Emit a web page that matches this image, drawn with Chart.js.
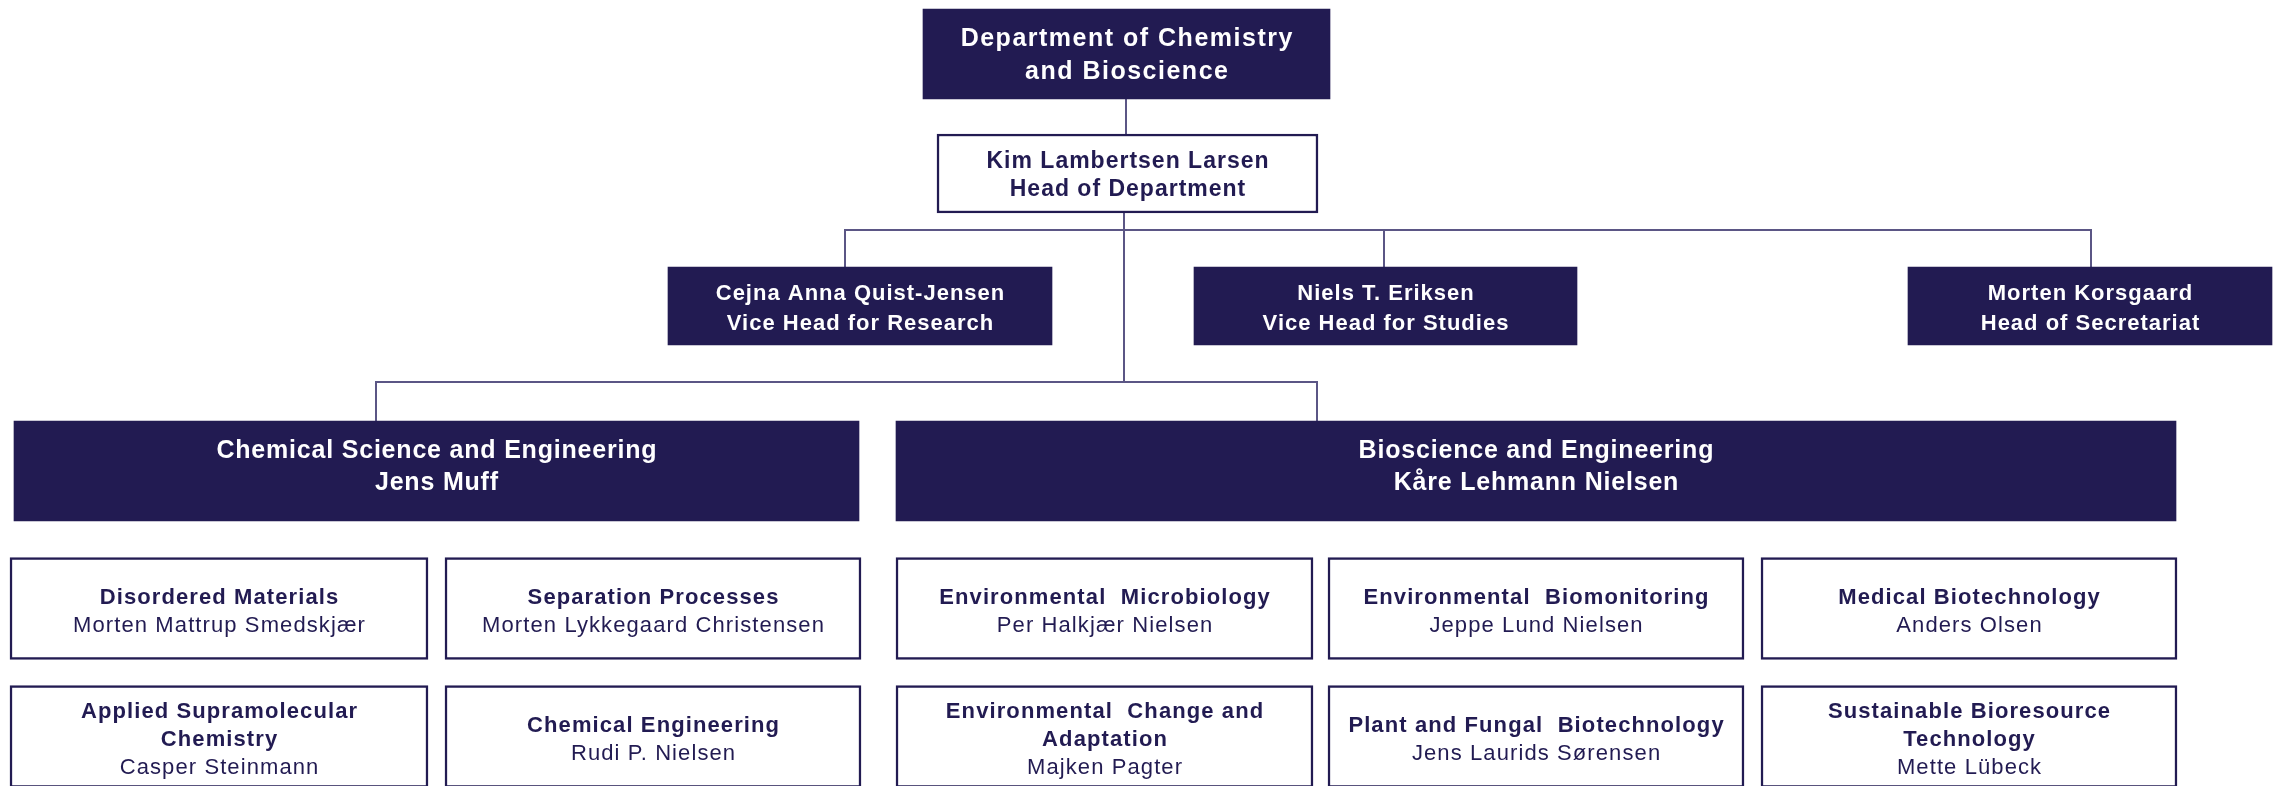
<!DOCTYPE html>
<html>
<head>
<meta charset="utf-8">
<title>Department of Chemistry and Bioscience</title>
<script src="https://cdn.jsdelivr.net/npm/chart.js@4.4.1/dist/chart.umd.min.js"></script>
<style>
  html, body { margin: 0; padding: 0; background: #fff; }
  canvas { display: block; }
</style>
</head>
<body>
<canvas id="orgChart" width="2284" height="786"></canvas>
<script>
// --- CONTENT ---
const deptTitle = ['Department of Chemistry', 'and Bioscience'];
const headName = 'Kim Lambertsen Larsen';
const headRole = 'Head of Department';
const leaderNames = ['Cejna Anna Quist-Jensen', 'Niels T. Eriksen', 'Morten Korsgaard'];
const leaderRoles = ['Vice Head for Research', 'Vice Head for Studies', 'Head of Secretariat'];
const sectionNames = ['Chemical Science and Engineering', 'Bioscience and Engineering'];
const sectionHeads = ['Jens Muff', 'Kåre Lehmann Nielsen'];
const groupNames = [
    'Disordered Materials', 'Separation Processes', 'Environmental  Microbiology',
    'Environmental  Biomonitoring', 'Medical Biotechnology',
    'Applied Supramolecular\nChemistry', 'Chemical Engineering', 'Environmental  Change and\nAdaptation',
    'Plant and Fungal  Biotechnology', 'Sustainable Bioresource\nTechnology'
];
const groupHeads = [
    'Morten Mattrup Smedskjær', 'Morten Lykkegaard Christensen', 'Per Halkjær Nielsen',
    'Jeppe Lund Nielsen', 'Anders Olsen',
    'Casper Steinmann', 'Rudi P. Nielsen', 'Majken Pagter',
    'Jens Laurids Sørensen', 'Mette Lübeck'
];

// --- LAYOUT (chart units on a 2284 x 786 plane) ---
const PLANE_W = 2284, PLANE_H = 786;
const deptSpan = [923, 1330], deptMid = 54, deptH = 90;
const headSpan = [937, 1318], headMid = 173.5, headH = 79;
const leaderSpans = [[668, 1052], [1194, 1577], [1908, 2272]];
const leaderMid = 306, leaderH = 78;
const sectionSpans = [[14, 859], [896, 2176]];
const sectionMid = 471, sectionH = 100;
const groupCols = [[10, 428], [445, 861], [896, 1313], [1328, 1744], [1761, 2177]];
const groupRowMids = [608.5, 736.5], groupH = 102;

// connector anchors
const upperSpineX = 1126, spineX = 1124;
const leaderBusY = 230, leaderLinkX = [845, 1384, 2091];
const sectionBusY = 382, sectionLinkX = [376, 1317];

// --- STYLE ---
const NAVY = '#221b52';
const LINK_COLOR = '#5b5685';
const FONT = '"Liberation Sans", Arial, Helvetica, sans-serif';

const topOf = (mid, h) => mid - h / 2;
const bottomOf = (mid, h) => mid + h / 2;

function boxes(spans, mids){
    return spans.map((s, i) => ({ x: s, y: Array.isArray(mids) ? mids[i] : mids }));
}

function boxSet(data, thickness, filled, textLines, textStyle){
    return {
        type: 'bar',
        indexAxis: 'y',
        data,
        barThickness: thickness,
        grouped: false,
        backgroundColor: filled ? NAVY : '#ffffff',
        borderColor: NAVY,
        borderWidth: filled ? 0 : 2.5,
        borderSkipped: false,
        order: 1,
        textLines,
        textStyle
    };
}

function link(points){
    return {
        type: 'line',
        data: points.map(p => ({ x: p[0], y: p[1] })),
        borderColor: LINK_COLOR,
        borderWidth: 2,
        borderCapStyle: 'butt',
        borderJoinStyle: 'miter',
        pointRadius: 0,
        fill: false,
        tension: 0,
        order: 2
    };
}

// --- TEXT LINES ---
const bold = t => ({ text: t, bold: true });
const plain = t => ({ text: t, bold: false });

const deptLines = [deptTitle.map(bold)];
const headLines = [[bold(headName), bold(headRole)]];
const leaderLines = leaderNames.map((n, i) => [bold(n), bold(leaderRoles[i])]);
const sectionLines = sectionNames.map((n, i) => [bold(n), bold(sectionHeads[i])]);
const groupLines = groupNames.map((n, i) => n.split('\n').map(bold).concat([plain(groupHeads[i])]));

const groupData = groupNames.map((_, i) => ({
    x: groupCols[i % 5],
    y: groupRowMids[Math.floor(i / 5)]
}));

// --- DATASETS ---
const datasets = [
    link([[upperSpineX, bottomOf(deptMid, deptH)], [upperSpineX, topOf(headMid, headH)]]),
    link([[spineX, bottomOf(headMid, headH)], [spineX, sectionBusY]]),
    link([[leaderLinkX[0], topOf(leaderMid, leaderH)], [leaderLinkX[0], leaderBusY],
          [leaderLinkX[2], leaderBusY], [leaderLinkX[2], topOf(leaderMid, leaderH)]]),
    link([[leaderLinkX[1], leaderBusY], [leaderLinkX[1], topOf(leaderMid, leaderH)]]),
    link([[sectionLinkX[0], topOf(sectionMid, sectionH)], [sectionLinkX[0], sectionBusY],
          [sectionLinkX[1], sectionBusY], [sectionLinkX[1], topOf(sectionMid, sectionH)]]),

    boxSet(boxes([deptSpan], deptMid), deptH, true, deptLines,
        { size: 25, lh: 33, shift: 0, spacing: 1.5, color: '#ffffff' }),
    boxSet(boxes([headSpan], headMid), headH, false, headLines,
        { size: 23, lh: 28, shift: 0.5, spacing: 1, color: NAVY }),
    boxSet(boxes(leaderSpans, leaderMid), leaderH, true, leaderLines,
        { size: 22, lh: 30, shift: 1.5, spacing: 1, color: '#ffffff' }),
    boxSet(boxes(sectionSpans, sectionMid), sectionH, true, sectionLines,
        { size: 25, lh: 32, shift: -5.5, spacing: 0.8, color: '#ffffff' }),
    boxSet(groupData, groupH, false, groupLines,
        { size: 22, lh: 28, shift: 2, shift3: 2, spacing: 1.1, color: NAVY })
];

// --- TEXT PLUGIN ---
const boxText = {
    id: 'boxText',
    afterDatasetsDraw(chart){
        const ctx = chart.ctx;
        chart.data.datasets.forEach((ds, di) => {
            if(!ds.textLines) return;
            const st = ds.textStyle;
            const meta = chart.getDatasetMeta(di);
            meta.data.forEach((bar, i) => {
                const { x, y, base } = bar.getProps(['x', 'y', 'base'], true);
                const lines = ds.textLines[i];
                const n = lines.length;
                const shift = (n === 3 && st.shift3 !== undefined) ? st.shift3 : st.shift;
                const cx = (x + base) / 2 + st.spacing / 2;
                let capMid = y + shift - (n - 1) * st.lh / 2;
                ctx.save();
                ctx.fillStyle = st.color;
                ctx.textAlign = 'center';
                ctx.textBaseline = 'alphabetic';
                ctx.letterSpacing = st.spacing + 'px';
                lines.forEach(l => {
                    ctx.font = (l.bold ? 'bold ' : '') + st.size + 'px ' + FONT;
                    ctx.fillText(l.text, cx, capMid + 0.358 * st.size);
                    capMid += st.lh;
                });
                ctx.restore();
            });
        });
    }
};

new Chart(document.getElementById('orgChart'), {
    type: 'bar',
    data: { datasets },
    plugins: [boxText],
    options: {
        responsive: false,
        devicePixelRatio: 1,
        animation: false,
        layout: { padding: 0 },
        scales: {
            x: { type: 'linear', min: 0, max: PLANE_W, offset: false, display: false },
            y: { type: 'linear', min: 0, max: PLANE_H, offset: false, reverse: true, display: false }
        },
        plugins: {
            legend: { display: false },
            tooltip: { enabled: false }
        }
    }
});
</script>
</body>
</html>
